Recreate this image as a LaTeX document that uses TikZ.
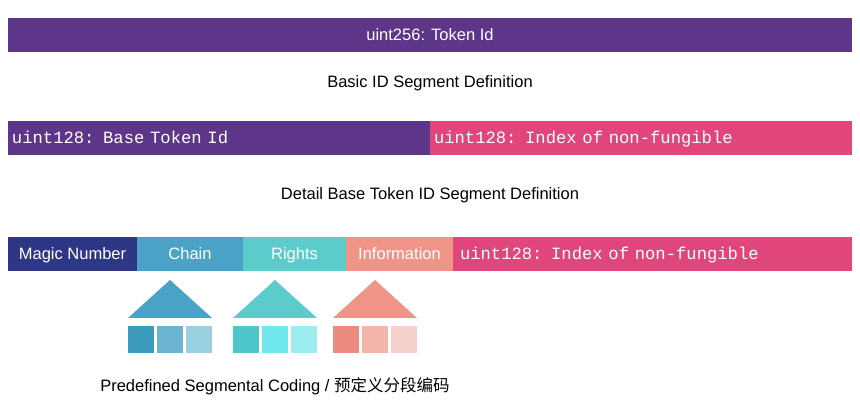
\documentclass[tikz,border=0pt]{standalone}
\usepackage{fontspec}
\setmainfont{Liberation Sans}
\setmonofont[WordSpace={1,0,0}]{Liberation Mono}
\newfontfamily\cjk{Noto Sans CJK SC}
\definecolor{purp}{HTML}{5E3689}
\definecolor{pink}{HTML}{E0457B}
\definecolor{navy}{HTML}{2E3785}
\definecolor{chainc}{HTML}{4AA3C6}
\definecolor{rightc}{HTML}{5CCBCB}
\definecolor{infoc}{HTML}{EF9487}
\definecolor{c1}{HTML}{3D9BBE}\definecolor{c2}{HTML}{6BB5D3}\definecolor{c3}{HTML}{98D0E0}
\definecolor{r1}{HTML}{4FC6C9}\definecolor{r2}{HTML}{6FE9EE}\definecolor{r3}{HTML}{9BEDEF}
\definecolor{i1}{HTML}{EC8C80}\definecolor{i2}{HTML}{F3B4AA}\definecolor{i3}{HTML}{F6D0CA}
\begin{document}
\begin{tikzpicture}[x=1pt,y=-1pt,
  seg/.style={draw=none,minimum height=34pt,inner sep=0pt,text=white,text height=14pt,text depth=2pt,font=\fontsize{16.5}{19}\selectfont},
  mono/.style={seg,font=\ttfamily\fontsize{17.2}{19}\selectfont},
  captxt/.style={font=\fontsize{16.5}{19}\selectfont},
  sq/.style={minimum width=26pt,minimum height=27pt,inner sep=0pt}]
\useasboundingbox[fill=white] (0,0) rectangle (860,403);
\node[seg,fill=purp,minimum width=844pt] (top) at (430,35) {uint256: Token Id};
\node[captxt] (t1) at (430,83) {Basic ID Segment Definition};
\node[mono,fill=purp,minimum width=422pt,text width=414pt,align=left] (base) at (219,138) {uint128: Base Token Id};
\node[mono,fill=pink,minimum width=422pt,text width=414pt,align=left] (idx1) at (641,138) {uint128: Index of non-fungible};
\node[captxt] (t2) at (430,195) {Detail Base Token ID Segment Definition};
\node[seg,fill=navy,minimum width=129pt] (magic) at (72.5,254) {Magic Number};
\node[seg,fill=chainc,minimum width=106pt] (chain) at (190,254) {Chain};
\node[seg,fill=rightc,minimum width=103pt] (rights) at (294.5,254) {Rights};
\node[seg,fill=infoc,minimum width=107pt] (info) at (399.5,254) {Information};
\node[mono,fill=pink,minimum width=399pt,text width=385pt,align=left] (idx2) at (652.5,254) {uint128: Index of non-fungible};
\foreach \x/\a/\b/\c/\n in {128/chainc/c1/c2/ch,233/rightc/r1/r2/ri,333/infoc/i1/i2/in}{
  \fill[\a] (\x,318) -- (\x+42,280) -- (\x+84,318) -- cycle;
  \node[sq,fill=\b] (\n1) at (\x+13,340) {};
  \node[sq,fill=\c] (\n2) at (\x+42,340) {};
}
\node[sq,fill=c3] (ch3) at (199,340) {};
\node[sq,fill=r3] (ri3) at (304,340) {};
\node[sq,fill=i3] (in3) at (404,340) {};
\node[captxt] (t3) at (275,386) {Predefined Segmental Coding / {\cjk 预定义分段编码}};
\end{tikzpicture}
\end{document}
